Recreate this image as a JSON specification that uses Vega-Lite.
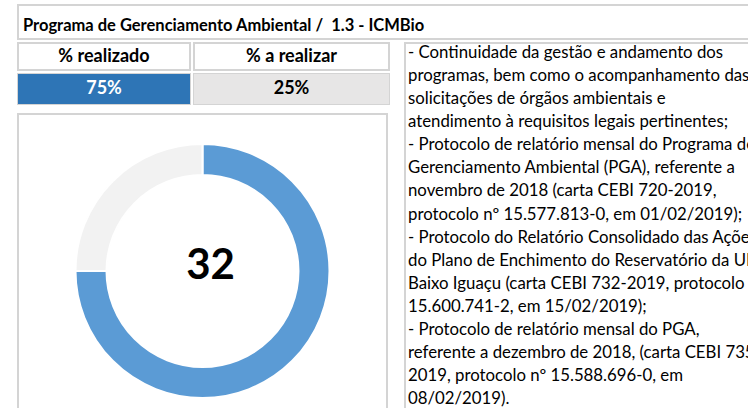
{
  "$schema": "https://vega.github.io/schema/vega-lite/v6.json",
  "padding": {"left": 17, "top": 4, "right": 0, "bottom": 0},
  "background": "white",
  "spacing": 2,
  "config": {"font": "Lato", "view": {"stroke": "#d4d4d4", "strokeWidth": 2}},
  "datasets": {
    "titulo": [{"texto": "Programa de Gerenciamento Ambiental /\u00a0 1.3 - ICMBio"}],
    "percentuais": [
      {"coluna": "% realizado", "percentual": 0.75},
      {"coluna": "% a realizar", "percentual": 0.25}
    ],
    "indicador": [{"valor": 32}],
    "descricao": [
      {"linha": 1, "texto": "- Continuidade da gestão e andamento dos"},
      {"linha": 2, "texto": "programas, bem como o acompanhamento das"},
      {"linha": 3, "texto": "solicitações de órgãos ambientais e"},
      {"linha": 4, "texto": "atendimento à requisitos legais pertinentes;"},
      {"linha": 5, "texto": "- Protocolo de relatório mensal do Programa de"},
      {"linha": 6, "texto": "Gerenciamento Ambiental (PGA), referente a"},
      {"linha": 7, "texto": "novembro de 2018 (carta CEBI 720-2019,"},
      {"linha": 8, "texto": "protocolo nº 15.577.813-0, em 01/02/2019);"},
      {"linha": 9, "texto": "- Protocolo do Relatório Consolidado das Ações"},
      {"linha": 10, "texto": "do Plano de Enchimento do Reservatório da UHE"},
      {"linha": 11, "texto": "Baixo Iguaçu (carta CEBI 732-2019, protocolo nº"},
      {"linha": 12, "texto": "15.600.741-2, em 15/02/2019);"},
      {"linha": 13, "texto": "- Protocolo de relatório mensal do PGA,"},
      {"linha": 14, "texto": "referente a dezembro de 2018, (carta CEBI 735-"},
      {"linha": 15, "texto": "2019, protocolo nº 15.588.696-0, em"},
      {"linha": 16, "texto": "08/02/2019)."}
    ]
  },
  "vconcat": [
    {
      "data": {"name": "titulo"},
      "width": 745,
      "height": 34,
      "mark": {"type": "text", "align": "left", "baseline": "middle", "fontSize": 16.5, "fontWeight": "bold", "dx": 5, "dy": 4, "color": "black", "clip": true},
      "encoding": {
        "x": {"datum": 0, "type": "quantitative", "scale": {"domain": [0, 1]}, "axis": null},
        "text": {"field": "texto"}
      }
    },
    {
      "spacing": 14,
      "hconcat": [
        {
          "spacing": 8,
          "vconcat": [
            {
              "spacing": 2,
              "vconcat": [
                {
                  "spacing": 2,
                  "hconcat": [
                    {
                      "data": {"name": "percentuais"},
                      "transform": [{"filter": "datum.coluna === '% realizado'"}],
                      "width": 172,
                      "height": 27,
                      "mark": {"type": "text", "fontSize": 18, "fontWeight": "bold", "baseline": "middle", "color": "black"},
                      "encoding": {
                        "x": {"field": "coluna", "type": "nominal", "axis": null},
                        "text": {"field": "coluna"}
                      }
                    },
                    {
                      "data": {"name": "percentuais"},
                      "transform": [{"filter": "datum.coluna === '% a realizar'"}],
                      "width": 195,
                      "height": 27,
                      "mark": {"type": "text", "fontSize": 18, "fontWeight": "bold", "baseline": "middle", "color": "black"},
                      "encoding": {
                        "x": {"field": "coluna", "type": "nominal", "axis": null},
                        "text": {"field": "coluna"}
                      }
                    }
                  ]
                },
                {
                  "spacing": 2,
                  "hconcat": [
                    {
                      "data": {"name": "percentuais"},
                      "transform": [{"filter": "datum.coluna === '% realizado'"}],
                      "width": 172,
                      "height": 30,
                      "encoding": {
                        "x": {"field": "coluna", "type": "nominal", "axis": null, "scale": {"paddingInner": 0, "paddingOuter": 0}}
                      },
                      "layer": [
                        {
                          "mark": {"type": "rect"},
                          "encoding": {"fill": {"field": "coluna", "type": "nominal", "scale": {"domain": ["% realizado", "% a realizar"], "range": ["#2E75B6", "#E7E6E6"]}, "legend": null}}
                        },
                        {
                          "mark": {"type": "text", "fontSize": 18, "fontWeight": "bold", "baseline": "middle"},
                          "encoding": {
                            "text": {"field": "percentual", "type": "quantitative", "format": ".0%"},
                            "color": {"condition": {"test": "datum.coluna === '% realizado'", "value": "white"}, "value": "black"}
                          }
                        }
                      ]
                    },
                    {
                      "data": {"name": "percentuais"},
                      "transform": [{"filter": "datum.coluna === '% a realizar'"}],
                      "width": 195,
                      "height": 30,
                      "encoding": {
                        "x": {"field": "coluna", "type": "nominal", "axis": null, "scale": {"paddingInner": 0, "paddingOuter": 0}}
                      },
                      "layer": [
                        {
                          "mark": {"type": "rect"},
                          "encoding": {"fill": {"field": "coluna", "type": "nominal", "scale": {"domain": ["% realizado", "% a realizar"], "range": ["#2E75B6", "#E7E6E6"]}, "legend": null}}
                        },
                        {
                          "mark": {"type": "text", "fontSize": 18, "fontWeight": "bold", "baseline": "middle"},
                          "encoding": {
                            "text": {"field": "percentual", "type": "quantitative", "format": ".0%"},
                            "color": {"condition": {"test": "datum.coluna === '% realizado'", "value": "white"}, "value": "black"}
                          }
                        }
                      ]
                    }
                  ]
                }
              ]
            },
            {
              "width": 369,
              "height": 314,
              "layer": [
                {
                  "data": {"name": "percentuais"},
                  "mark": {"type": "arc", "innerRadius": 96, "outerRadius": 127, "stroke": "white", "strokeWidth": 2},
                  "encoding": {
                    "theta": {"field": "percentual", "type": "quantitative", "stack": true},
                    "color": {"field": "coluna", "type": "nominal", "scale": {"domain": ["% realizado", "% a realizar"], "range": ["#5B9BD5", "#F2F2F2"]}, "legend": null},
                    "order": {"field": "percentual", "sort": "descending"}
                  }
                },
                {
                  "data": {"name": "indicador"},
                  "mark": {"type": "text", "fontSize": 42, "fontWeight": "bold", "baseline": "middle", "dx": 8, "dy": -5, "color": "black"},
                  "encoding": {
                    "x": {"datum": 0.5, "type": "quantitative", "scale": {"domain": [0, 1]}, "axis": null},
                    "y": {"datum": 0.5, "type": "quantitative", "scale": {"domain": [0, 1]}, "axis": null},
                    "text": {"field": "valor", "type": "quantitative"}
                  }
                }
              ]
            }
          ]
        },
        {
          "data": {"name": "descricao"},
          "width": 360,
          "height": 380,
          "mark": {"type": "text", "align": "left", "baseline": "alphabetic", "fontSize": 16.8, "clip": true, "dx": 3, "color": "black"},
          "encoding": {
            "x": {"datum": 0, "type": "quantitative", "scale": {"domain": [0, 1]}, "axis": null},
            "y": {"field": "linha", "type": "quantitative", "scale": {"domain": [0.35, 16.82], "reverse": true, "nice": false, "zero": false}, "axis": null},
            "text": {"field": "texto"}
          }
        }
      ]
    }
  ]
}
